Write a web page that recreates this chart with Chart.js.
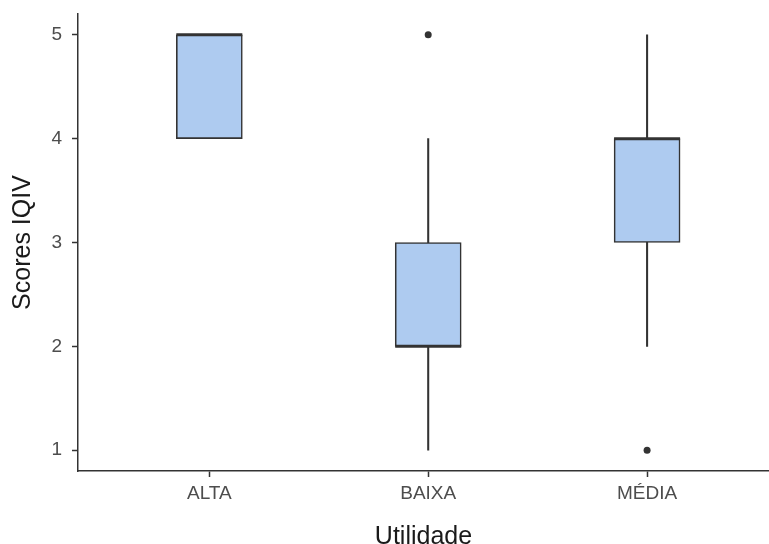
<!DOCTYPE html>
<html>
<head>
<meta charset="utf-8">
<script src="https://cdn.jsdelivr.net/npm/chart.js@4/dist/chart.umd.min.js"></script>
<style>
  html, body { margin: 0; padding: 0; background: #fff; }
  #wrap { position: relative; width: 769px; height: 544px; }
</style>
</head>
<body>
<div id="wrap"><canvas id="c" width="769" height="544"></canvas></div>
<script>
// Boxplot de scores IQIV por utilidade (estilo ggplot)
const categories = ['ALTA', 'BAIXA', 'MÉDIA']
const whiskerLow = [4, 1, 2]
const q1 = [4, 2, 3]
const median = [5, 2, 4]
const q3 = [5, 3, 4]
const whiskerHigh = [5, 4, 5]
const outlierGroup = ['BAIXA', 'MÉDIA']
const outlierScore = [5, 1]
const yTicks = [1, 2, 3, 4, 5]

const INK = '#333333'
const FILL = '#aecbf0'
const FONT = "'Liberation Sans', Arial, Helvetica, sans-serif"

// posição numérica de cada categoria (1, 2, 3) no eixo x linear
const pos = name => categories.indexOf(name) + 1

const whiskerData = categories.map((c, i) => ({ x: pos(c), y: [whiskerLow[i], whiskerHigh[i]] }))
const boxData = categories.map((c, i) => ({ x: pos(c), y: [q1[i], q3[i]] }))
const medianData = categories.map((c, i) => ({ x: pos(c), y: median[i] }))
const outlierData = outlierGroup.map((c, i) => ({ x: pos(c), y: outlierScore[i] }))

new Chart(document.getElementById('c'), {
  type: 'bar',
  data: {
    datasets: [
      {
        label: 'whiskers', data: whiskerData, order: 4, grouped: false,
        backgroundColor: INK, barThickness: 1.4, borderWidth: 0,
      },
      {
        label: 'box', data: boxData, order: 3, grouped: false,
        backgroundColor: FILL, borderColor: INK, borderWidth: 1.6,
        borderSkipped: false, barThickness: 66,
      },
      {
        type: 'scatter', label: 'mediana', data: medianData, order: 2,
        pointStyle: 'line', pointRadius: 33, borderColor: INK, borderWidth: 3,
        pointHoverRadius: 33,
      },
      {
        type: 'scatter', label: 'outliers', data: outlierData, order: 1,
        pointStyle: 'circle', pointRadius: 3.5, backgroundColor: INK,
        borderColor: INK, borderWidth: 0,
      },
    ]
  },
  options: {
    responsive: false,
    animation: false,
    events: [],
    layout: { autoPadding: false, padding: { top: 14, right: 0, left: 0, bottom: 0 } },
    plugins: { legend: { display: false }, tooltip: { enabled: false } },
    scales: {
      x: {
        type: 'linear',
        offset: false,
        min: 0.4, max: 3.557,
        afterBuildTicks: s => { s.ticks = categories.map((c, i) => ({ value: i + 1 })) },
        afterFit: s => { s.height = 73; s.paddingLeft = 0; s.paddingRight = 0 },
        grid: { offset: false, drawOnChartArea: false, drawTicks: true, tickLength: 6, tickWidth: 1.5, tickColor: INK },
        border: { display: true, color: INK, width: 1.5 },
        ticks: {
          color: '#4d4d4d', padding: 5, maxRotation: 0, autoSkip: false,
          font: { family: FONT, size: 19 },
          callback: v => categories[v - 1] ?? '',
        },
        title: {
          display: true, text: 'Utilidade', color: '#1a1a1a',
          font: { family: FONT, size: 25, lineHeight: 1 },
          padding: { top: 0, bottom: -6 },
        },
      },
      y: {
        type: 'linear',
        min: 0.8, max: 5.2,
        afterBuildTicks: s => { s.ticks = yTicks.map(v => ({ value: v })) },
        afterFit: s => { s.width = 78; s.paddingTop = 0; s.paddingBottom = 0 },
        grid: { drawOnChartArea: false, drawTicks: true, tickLength: 6, tickWidth: 1.5, tickColor: INK },
        border: { display: true, color: INK, width: 1.5 },
        ticks: {
          color: '#4d4d4d', padding: 10,
          font: { family: FONT, size: 19 },
        },
        title: {
          display: true, text: 'Scores IQIV', color: '#1a1a1a',
          font: { family: FONT, size: 25, lineHeight: 1 },
          padding: { top: 11, bottom: 0 },
        },
      },
    }
  }
})
</script>
</body>
</html>
